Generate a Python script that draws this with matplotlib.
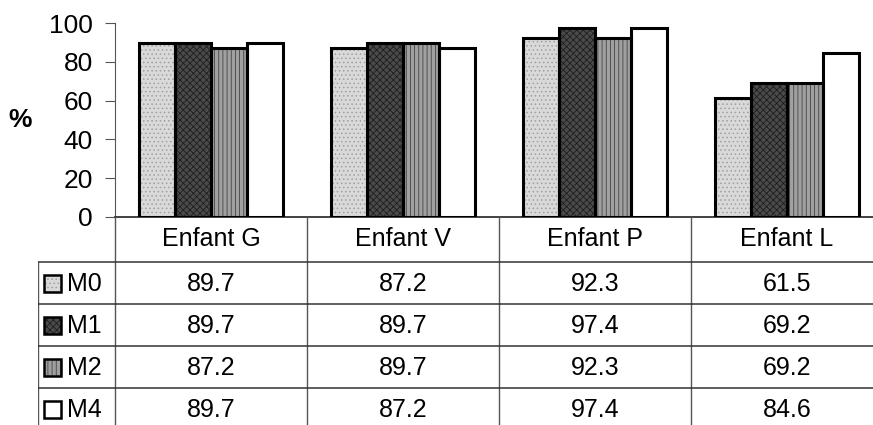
import matplotlib.pyplot as plt
import numpy as np
from matplotlib.patches import Rectangle

plt.rcParams['font.family'] = ['Liberation Sans', 'DejaVu Sans']
plt.rcParams['hatch.linewidth'] = 0.6

# data
enfants = ['Enfant G', 'Enfant V', 'Enfant P', 'Enfant L']
series = ['M0', 'M1', 'M2', 'M4']
m0 = [89.7, 87.2, 92.3, 61.5]
m1 = [89.7, 89.7, 97.4, 69.2]
m2 = [87.2, 89.7, 92.3, 69.2]
m4 = [89.7, 87.2, 97.4, 84.6]
values = [m0, m1, m2, m4]

# styles: facecolor, hatch, hatch colour
styles = [('#d9d9d9', '....', '#a0a0a0'),
          ('#4a4a4a', 'xxxxx', '#1e1e1e'),
          ('#a0a0a0', '||||', '#444444'),
          ('#ffffff', '', '#ffffff')]

W, H = 873, 425
fig = plt.figure(figsize=(W/100, H/100), dpi=100)

# bar axes
ax = fig.add_axes([115/W, 1-217/H, 1-115/W, (217-23)/H])
ax.set_xlim(-0.5, 3.5 - 10/192)
ax.set_ylim(0, 100)
x = np.arange(len(enfants))
bw = 0.1875
offsets = (np.arange(4) - 1.5) * bw
for i, vals in enumerate(values):
    fc, hatch, hc = styles[i]
    ax.bar(x + offsets[i], vals, bw, color=fc, hatch=hatch, edgecolor=hc, linewidth=0, zorder=2)
    ax.bar(x + offsets[i], vals, bw, fill=False, edgecolor='black', linewidth=2.2, zorder=3)

for s in ['top', 'right']:
    ax.spines[s].set_visible(False)
ax.spines['left'].set_color('#555555')
ax.spines['bottom'].set_color('#222222')
ax.spines['bottom'].set_linewidth(1.2)
ax.set_yticks([0, 20, 40, 60, 80, 100])
ax.tick_params(axis='y', labelsize=19, length=7, color='#555555', pad=9)
ax.set_xticks([])
fig.text(20/W, 1-120/H, '%', fontsize=19, fontweight='bold', ha='center', va='center')

# table axes
tx = fig.add_axes([38/W, 0, 1-38/W, 1-217/H])
tx.set_xlim(-0.5 - 77/192, 3.5 - 10/192)
tx.set_ylim(H, 217)
tx.axis('off')

row_edges = [217, 262, 304, 346, 388, 430]
col_edges = [-0.5, 0.5, 1.5, 2.5, 3.5]
left = -0.5 - 77/192
line_c = '#555555'
for ce in col_edges[:-1]:
    tx.plot([ce, ce], [217, H], color=line_c, lw=1, clip_on=False)
tx.plot([left, left], [262, H], color=line_c, lw=1)
for re in row_edges[1:-1]:
    tx.plot([left, 3.5], [re, re], color='#333333', lw=1.1)

hy = (row_edges[0] + row_edges[1]) / 2
for j, name in enumerate(enfants):
    tx.text(j, hy, name, fontsize=18, ha='center', va='center')

key = 17 / 192
for i, name in enumerate(series):
    cy = (row_edges[i+1] + row_edges[i+2]) / 2
    fc, hatch, hc = styles[i]
    kx = left + 6/192
    tx.add_patch(Rectangle((kx, cy - 8.5), key, 17, facecolor=fc, hatch=hatch,
                           edgecolor=hc, linewidth=0))
    tx.add_patch(Rectangle((kx, cy - 8.5), key, 17, fill=False,
                           edgecolor='black', linewidth=1.8))
    tx.text(left + 29/192, cy + 1, name, fontsize=18, ha='left', va='center')
    for j, v in enumerate(values[i]):
        tx.text(j, cy + 1, f'{v:.1f}', fontsize=18, ha='center', va='center')

fig.savefig('out.png', dpi=100)
